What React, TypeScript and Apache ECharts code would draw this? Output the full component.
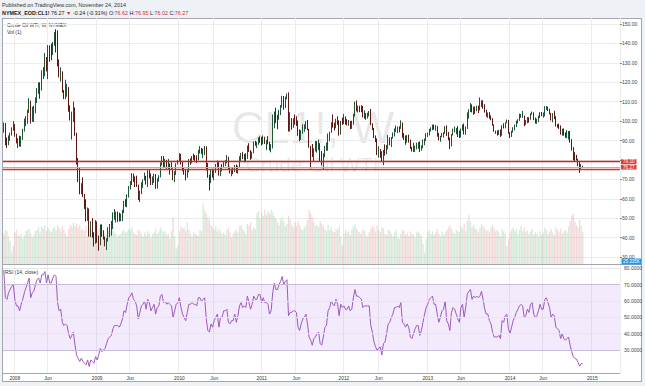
import React, { useEffect, useRef } from 'react';
import * as echarts from 'echarts';

// ---------- weekly categories (Monday of each week) ----------
const START_DATE = Date.UTC(2007, 10, 19);
const WEEK_COUNT = 390;
const weeks: string[] = Array.from({ length: WEEK_COUNT }, (_, i) =>
  new Date(START_DATE + i * 7 * 86400000).toISOString().slice(0, 10)
);

// ---------- weekly OHLC (CL1!, W) ----------
const opens = [
  95.1, 98.2, 88.7, 88.3, 91.3, 93.3, 96.0, 97.9, 92.7, 90.6,
  90.7, 89.0, 91.8, 95.5, 98.8, 101.8, 105.2, 110.2, 101.8, 105.6,
  106.2, 110.1, 116.7, 118.5, 116.3, 126.0, 126.3, 132.2, 127.4, 138.5,
  134.9, 134.6, 140.2, 145.3, 145.1, 128.9, 123.3, 125.1, 115.2, 113.8,
  114.6, 115.5, 106.2, 101.2, 104.6, 106.9, 93.9, 77.7, 71.9, 64.2,
  67.8, 61.0, 57.0, 49.9, 54.4, 40.8, 46.3, 42.4, 37.7, 46.3,
  40.8, 36.5, 46.5, 41.7, 40.2, 37.5, 38.9, 44.8, 45.5, 46.3,
  51.1, 52.4, 52.5, 52.2, 50.3, 51.6, 53.2, 58.6, 56.3, 61.7,
  66.3, 68.4, 72.0, 69.6, 69.2, 66.7, 59.9, 63.6, 68.1, 69.5,
  70.9, 67.5, 73.9, 72.7, 68.0, 69.3, 72.0, 66.0, 70.0, 71.8,
  78.5, 80.5, 77.0, 77.4, 76.4, 76.7, 76.1, 75.5, 69.9, 73.4,
  78.1, 79.4, 82.8, 78.0, 74.5, 72.9, 71.2, 74.1, 79.8, 79.7,
  81.5, 81.2, 80.7, 80.0, 84.9, 84.9, 83.2, 85.1, 86.2, 75.1,
  71.6, 70.0, 74.0, 71.5, 73.8, 77.2, 78.9, 72.1, 76.1, 76.0,
  79.0, 79.0, 80.7, 75.4, 73.5, 75.2, 74.6, 76.5, 73.7, 76.5,
  81.6, 82.7, 81.3, 81.7, 81.4, 86.9, 84.9, 81.5, 83.8, 89.2,
  87.8, 88.0, 91.5, 91.4, 88.0, 91.5, 89.1, 89.3, 89.0, 85.6,
  86.2, 97.9, 104.4, 101.2, 101.1, 105.4, 107.9, 112.8, 109.7, 112.3,
  113.9, 97.2, 99.7, 99.5, 100.6, 100.2, 99.3, 93.0, 91.2, 94.9,
  96.2, 97.2, 99.9, 95.7, 86.9, 85.4, 82.3, 85.4, 86.5, 87.2,
  88.0, 79.9, 79.2, 83.0, 86.8, 87.4, 93.3, 94.3, 99.0, 97.4,
  96.8, 101.0, 99.4, 93.5, 99.7, 98.8, 101.6, 98.7, 98.5, 99.6,
  97.8, 98.7, 103.2, 109.8, 106.7, 107.4, 107.1, 106.9, 103.0, 103.3,
  102.8, 103.1, 104.9, 98.5, 96.1, 91.5, 90.9, 83.2, 84.1, 84.0,
  79.8, 85.0, 84.5, 87.1, 91.4, 90.1, 91.4, 92.9, 96.0, 96.2,
  96.5, 96.4, 99.0, 92.9, 92.2, 89.9, 91.9, 90.1, 86.3, 84.9,
  86.1, 86.7, 88.3, 88.9, 85.9, 86.7, 88.7, 90.8, 93.1, 93.6,
  95.6, 95.9, 97.8, 95.7, 95.9, 93.1, 90.7, 92.0, 93.5, 93.7,
  97.2, 92.7, 91.3, 88.0, 93.0, 95.6, 96.0, 96.0, 94.2, 92.0,
  96.0, 97.9, 93.7, 96.6, 103.2, 106.0, 108.1, 104.7, 106.9, 106.0,
  107.5, 106.4, 107.7, 110.5, 108.2, 104.7, 102.9, 103.8, 102.0, 100.8,
  97.9, 94.6, 94.6, 93.8, 94.8, 92.7, 97.7, 96.6, 99.3, 100.3,
  94.0, 92.7, 94.4, 96.6, 97.5, 99.9, 100.3, 102.2, 102.6, 102.6,
  98.9, 99.5, 101.7, 101.1, 103.7, 104.3, 100.6, 99.8, 100.0, 102.0,
  104.4, 102.7, 102.7, 106.9, 107.3, 105.7, 104.1, 100.8, 103.1, 102.1,
  97.9, 97.7, 97.4, 93.7, 96.0, 93.3, 92.3, 92.4, 93.5, 89.7,
  85.8, 82.8, 81.0, 80.5, 78.7, 75.8, 76.62,
];

const closes = [
  98.2, 88.7, 88.3, 91.3, 93.3, 96.0, 97.9, 92.7, 90.6, 90.7,
  89.0, 91.8, 95.5, 98.8, 101.8, 105.2, 110.2, 101.8, 105.6, 106.2,
  110.1, 116.7, 118.5, 116.3, 126.0, 126.3, 132.2, 127.4, 138.5, 134.9,
  134.6, 140.2, 145.3, 145.1, 128.9, 123.3, 125.1, 115.2, 113.8, 114.6,
  115.5, 106.2, 101.2, 104.6, 106.9, 93.9, 77.7, 71.9, 64.2, 67.8,
  61.0, 57.0, 49.9, 54.4, 40.8, 46.3, 42.4, 37.7, 46.3, 40.8,
  36.5, 46.5, 41.7, 40.2, 37.5, 38.9, 44.8, 45.5, 46.3, 51.1,
  52.4, 52.5, 52.2, 50.3, 51.6, 53.2, 58.6, 56.3, 61.7, 66.3,
  68.4, 72.0, 69.6, 69.2, 66.7, 59.9, 63.6, 68.1, 69.5, 70.9,
  67.5, 73.9, 72.7, 68.0, 69.3, 72.0, 66.0, 70.0, 71.8, 78.5,
  80.5, 77.0, 77.4, 76.4, 76.7, 76.1, 75.5, 69.9, 73.4, 78.1,
  79.4, 82.8, 78.0, 74.5, 72.9, 71.2, 74.1, 79.8, 79.7, 81.5,
  81.2, 80.7, 80.0, 84.9, 84.9, 83.2, 85.1, 86.2, 75.1, 71.6,
  70.0, 74.0, 71.5, 73.8, 77.2, 78.9, 72.1, 76.1, 76.0, 79.0,
  79.0, 80.7, 75.4, 73.5, 75.2, 74.6, 76.5, 73.7, 76.5, 81.6,
  82.7, 81.3, 81.7, 81.4, 86.9, 84.9, 81.5, 83.8, 89.2, 87.8,
  88.0, 91.5, 91.4, 88.0, 91.5, 89.1, 89.3, 89.0, 85.6, 86.2,
  97.9, 104.4, 101.2, 101.1, 105.4, 107.9, 112.8, 109.7, 112.3, 113.9,
  97.2, 99.7, 99.5, 100.6, 100.2, 99.3, 93.0, 91.2, 94.9, 96.2,
  97.2, 99.9, 95.7, 86.9, 85.4, 82.3, 85.4, 86.5, 87.2, 88.0,
  79.9, 79.2, 83.0, 86.8, 87.4, 93.3, 94.3, 99.0, 97.4, 96.8,
  101.0, 99.4, 93.5, 99.7, 98.8, 101.6, 98.7, 98.5, 99.6, 97.8,
  98.7, 103.2, 109.8, 106.7, 107.4, 107.1, 106.9, 103.0, 103.3, 102.8,
  103.1, 104.9, 98.5, 96.1, 91.5, 90.9, 83.2, 84.1, 84.0, 79.8,
  85.0, 84.5, 87.1, 91.4, 90.1, 91.4, 92.9, 96.0, 96.2, 96.5,
  96.4, 99.0, 92.9, 92.2, 89.9, 91.9, 90.1, 86.3, 84.9, 86.1,
  86.7, 88.3, 88.9, 85.9, 86.7, 88.7, 90.8, 93.1, 93.6, 95.6,
  95.9, 97.8, 95.7, 95.9, 93.1, 90.7, 92.0, 93.5, 93.7, 97.2,
  92.7, 91.3, 88.0, 93.0, 95.6, 96.0, 96.0, 94.2, 92.0, 96.0,
  97.9, 93.7, 96.6, 103.2, 106.0, 108.1, 104.7, 106.9, 106.0, 107.5,
  106.4, 107.7, 110.5, 108.2, 104.7, 102.9, 103.8, 102.0, 100.8, 97.9,
  94.6, 94.6, 93.8, 94.8, 92.7, 97.7, 96.6, 99.3, 100.3, 94.0,
  92.7, 94.4, 96.6, 97.5, 99.9, 100.3, 102.2, 102.6, 102.6, 98.9,
  99.5, 101.7, 101.1, 103.7, 104.3, 100.6, 99.8, 100.0, 102.0, 104.4,
  102.7, 102.7, 106.9, 107.3, 105.7, 104.1, 100.8, 103.1, 102.1, 97.9,
  97.7, 97.4, 93.7, 96.0, 93.3, 92.3, 92.4, 93.5, 89.7, 85.8,
  82.8, 81.0, 80.5, 78.7, 75.8, 76.5, 76.27,
];

const lows = [
  94.0, 87.5, 86.1, 87.6, 89.8, 92.5, 95.0, 92.0, 88.5, 86.1,
  87.0, 86.7, 90.3, 94.6, 97.4, 98.6, 104.2, 98.7, 99.6, 99.6,
  104.0, 109.3, 114.0, 111.5, 115.7, 121.6, 123.0, 125.6, 121.6, 130.5,
  131.3, 134.0, 138.8, 135.3, 128.2, 122.5, 120.4, 114.6, 111.3, 111.3,
  112.5, 104.8, 100.3, 90.5, 99.5, 92.4, 77.6, 68.6, 62.3, 62.3,
  60.8, 54.7, 48.3, 48.6, 40.5, 40.3, 39.9, 35.4, 36.8, 37.3,
  33.2, 36.0, 40.4, 39.0, 35.5, 33.6, 38.0, 40.2, 41.0, 44.5,
  49.2, 47.7, 48.1, 48.3, 48.4, 48.5, 52.6, 55.9, 55.6, 60.6,
  64.8, 67.0, 68.7, 66.0, 66.1, 59.3, 58.3, 62.4, 65.6, 69.4,
  67.3, 66.1, 70.5, 67.1, 67.1, 68.1, 65.1, 65.2, 68.8, 71.0,
  77.1, 76.2, 76.3, 75.4, 75.2, 72.4, 75.0, 69.5, 68.6, 72.2,
  77.6, 79.0, 77.6, 74.2, 72.4, 69.5, 70.8, 73.6, 77.5, 78.3,
  80.0, 79.0, 78.4, 79.8, 83.3, 83.1, 80.9, 82.6, 74.5, 70.8,
  64.2, 68.0, 70.9, 69.5, 73.3, 75.7, 71.9, 71.6, 74.1, 75.9,
  76.8, 78.2, 75.0, 73.0, 71.6, 72.7, 73.7, 73.3, 72.9, 76.3,
  79.2, 80.4, 78.7, 79.4, 80.5, 84.1, 80.1, 80.7, 83.4, 87.3,
  86.1, 87.8, 88.8, 87.4, 88.0, 88.2, 85.1, 88.0, 84.9, 83.9,
  85.9, 96.3, 99.0, 95.8, 100.7, 103.1, 107.0, 105.8, 106.7, 111.2,
  94.6, 94.6, 95.6, 96.5, 98.1, 97.5, 92.4, 89.7, 90.3, 93.5,
  94.5, 95.9, 95.3, 86.3, 75.7, 81.5, 79.2, 84.4, 83.7, 85.0,
  79.1, 77.1, 74.9, 81.4, 84.8, 84.7, 89.6, 94.0, 96.6, 95.2,
  96.3, 98.1, 92.5, 93.0, 98.0, 98.5, 98.2, 97.8, 97.6, 95.9,
  96.0, 98.1, 102.3, 105.0, 104.4, 104.6, 104.6, 101.9, 101.2, 100.7,
  101.3, 102.4, 97.9, 95.4, 91.2, 89.2, 82.5, 81.2, 81.1, 78.9,
  77.3, 82.2, 83.0, 85.5, 87.5, 86.7, 91.0, 92.1, 94.4, 93.8,
  94.2, 96.0, 91.4, 90.3, 87.8, 88.9, 88.9, 85.7, 84.3, 84.1,
  84.1, 85.4, 85.7, 84.1, 84.7, 86.0, 87.6, 89.7, 91.8, 92.6,
  94.6, 95.3, 95.5, 95.0, 92.0, 90.1, 89.3, 91.7, 91.5, 93.4,
  92.3, 90.1, 85.6, 86.9, 92.6, 94.2, 93.2, 91.8, 91.3, 91.6,
  95.1, 93.1, 93.0, 95.9, 101.2, 104.6, 104.5, 103.2, 103.7, 105.1,
  104.1, 105.5, 107.2, 106.4, 104.4, 102.2, 101.7, 101.2, 100.5, 97.6,
  94.5, 93.4, 92.5, 92.8, 91.8, 92.4, 96.2, 96.3, 98.9, 93.5,
  91.2, 91.8, 94.0, 95.2, 96.9, 98.8, 100.1, 101.7, 101.7, 97.4,
  97.9, 98.9, 99.2, 100.7, 103.3, 100.5, 98.7, 98.6, 99.5, 101.6,
  102.5, 101.8, 102.5, 105.8, 105.2, 103.5, 100.3, 99.4, 101.0, 97.2,
  96.6, 95.9, 93.0, 92.5, 92.5, 91.4, 91.2, 90.5, 88.9, 84.8,
  79.8, 79.4, 79.8, 76.8, 73.3, 74.8, 76.02,
];

const highs = [
  99.3, 99.0, 91.5, 92.6, 94.0, 96.8, 100.0, 98.5, 93.5, 91.2,
  92.5, 92.2, 96.0, 101.3, 102.6, 105.9, 111.8, 110.5, 107.4, 108.0,
  112.2, 117.0, 119.9, 120.0, 126.2, 127.8, 135.1, 133.0, 139.1, 139.0,
  139.9, 140.7, 145.8, 147.3, 146.7, 131.8, 127.7, 125.6, 116.0, 121.3,
  119.2, 117.5, 108.1, 104.9, 110.0, 107.0, 94.0, 81.0, 75.8, 68.0,
  71.0, 62.5, 59.7, 55.5, 55.0, 48.4, 50.0, 42.8, 49.0, 48.3,
  41.0, 46.8, 46.8, 43.8, 40.5, 39.6, 45.4, 47.0, 48.6, 53.0,
  54.7, 53.4, 53.4, 52.8, 52.3, 54.3, 58.9, 59.8, 62.3, 66.6,
  69.1, 73.2, 72.9, 71.5, 71.9, 67.3, 64.2, 68.5, 70.0, 73.5,
  71.8, 74.7, 75.0, 73.1, 71.5, 72.9, 72.7, 70.5, 72.1, 78.7,
  82.0, 82.0, 80.5, 80.0, 80.5, 78.2, 78.8, 75.6, 74.2, 78.3,
  80.0, 83.5, 83.1, 79.5, 76.0, 75.1, 74.7, 80.5, 80.8, 82.0,
  83.2, 82.5, 82.4, 85.2, 87.1, 86.2, 85.8, 87.2, 87.0, 78.5,
  72.4, 75.0, 75.5, 75.2, 77.9, 79.7, 79.1, 76.4, 77.8, 79.3,
  79.9, 82.5, 81.6, 76.6, 75.5, 75.9, 77.4, 77.6, 77.0, 81.9,
  83.6, 84.0, 83.1, 83.4, 87.4, 88.6, 85.0, 84.3, 89.5, 89.8,
  89.3, 91.6, 92.1, 91.9, 92.6, 91.9, 90.2, 92.2, 89.4, 88.2,
  103.4, 104.9, 106.9, 103.2, 105.8, 108.2, 113.0, 112.9, 112.6, 114.2,
  114.8, 104.6, 101.5, 101.4, 103.4, 102.4, 100.3, 95.7, 95.3, 98.3,
  98.3, 100.0, 100.6, 96.0, 87.2, 88.2, 86.0, 89.8, 89.7, 90.5,
  88.6, 84.6, 83.4, 87.2, 89.0, 93.6, 94.6, 99.4, 103.4, 99.2,
  101.2, 102.4, 100.4, 100.1, 101.8, 103.7, 102.4, 101.0, 100.6, 100.1,
  100.2, 103.7, 110.0, 110.6, 108.0, 107.9, 108.2, 107.8, 105.5, 104.1,
  104.3, 105.2, 106.2, 98.9, 96.5, 92.6, 91.1, 87.0, 85.6, 84.4,
  85.2, 88.0, 87.7, 92.9, 91.6, 91.8, 94.2, 96.2, 97.7, 97.2,
  97.3, 100.4, 99.3, 93.8, 92.6, 92.8, 93.0, 90.4, 86.8, 88.9,
  87.3, 88.9, 89.2, 89.5, 87.5, 90.5, 91.0, 93.8, 94.1, 96.0,
  96.8, 98.2, 98.2, 98.0, 97.4, 93.8, 92.4, 93.9, 94.2, 97.4,
  97.8, 94.4, 91.6, 93.3, 96.1, 97.2, 96.5, 97.4, 95.1, 96.2,
  98.2, 98.7, 97.2, 104.5, 106.1, 109.3, 108.6, 107.5, 107.5, 107.9,
  107.9, 112.2, 110.7, 110.7, 108.7, 105.8, 104.4, 104.6, 102.9, 101.5,
  98.3, 95.1, 95.2, 95.5, 95.7, 97.9, 98.9, 99.4, 100.8, 100.6,
  94.3, 95.0, 96.8, 98.2, 100.2, 101.0, 103.8, 103.7, 105.2, 102.8,
  100.6, 102.1, 102.0, 104.0, 104.9, 104.5, 101.8, 101.2, 102.8, 104.6,
  104.7, 104.4, 107.7, 107.7, 107.5, 106.4, 104.2, 104.1, 105.3, 102.5,
  98.4, 98.7, 97.8, 96.1, 96.2, 94.2, 95.4, 94.9, 94.9, 90.7,
  86.6, 83.9, 82.6, 80.6, 78.9, 77.9, 76.95,
];

// ---------- weekly volume (K) ----------
const volumes = [
  24, 27, 26, 22, 18, 10, 14, 25, 27, 23,
  22, 24, 20, 23, 26, 27, 28, 24, 21, 23,
  26, 27, 29, 25, 30, 28, 31, 26, 29, 27,
  25, 28, 30, 27, 31, 29, 26, 30, 27, 24,
  22, 28, 31, 30, 33, 30, 32, 29, 31, 27,
  28, 26, 30, 22, 29, 27, 25, 17, 20, 26,
  28, 31, 27, 25, 24, 23, 27, 26, 28, 29,
  25, 24, 22, 23, 24, 26, 27, 25, 26, 28,
  27, 29, 25, 24, 23, 27, 26, 24, 22, 25,
  23, 26, 24, 21, 24, 25, 28, 24, 26, 29,
  27, 25, 26, 23, 24, 20, 26, 37, 22, 12,
  15, 26, 30, 28, 29, 26, 33, 27, 24, 22,
  25, 24, 23, 22, 27, 26, 48, 43, 40, 37,
  35, 31, 29, 27, 30, 26, 28, 26, 24, 25,
  23, 27, 29, 25, 21, 24, 26, 27, 25, 30,
  31, 28, 26, 24, 32, 30, 33, 27, 29, 28,
  40, 42, 36, 41, 38, 43, 39, 42, 40, 43,
  41, 38, 36, 33, 31, 35, 37, 34, 30, 32,
  38, 35, 31, 29, 33, 30, 34, 31, 28, 27,
  29, 31, 35, 43, 40, 37, 33, 30, 31, 29,
  34, 32, 30, 28, 26, 31, 27, 29, 26, 25,
  28, 27, 30, 22, 15, 24, 27, 25, 26, 23,
  27, 30, 32, 28, 26, 25, 24, 27, 26, 23,
  22, 25, 28, 30, 29, 26, 31, 27, 25, 29,
  28, 24, 23, 27, 26, 24, 22, 25, 27, 21,
  20, 24, 27, 26, 23, 25, 22, 26, 24, 23,
  21, 25, 26, 24, 22, 16, 9, 20, 25, 27,
  24, 26, 23, 25, 28, 24, 22, 26, 23, 25,
  27, 29, 31, 28, 25, 24, 27, 26, 25, 30,
  28, 32, 26, 34, 39, 33, 29, 31, 28, 27,
  25, 29, 32, 30, 28, 26, 27, 25, 29, 31,
  28, 26, 27, 25, 22, 28, 26, 24, 14, 20,
  25, 27, 29, 26, 28, 24, 27, 30, 26, 29,
  25, 27, 24, 26, 28, 23, 25, 24, 22, 26,
  23, 25, 29, 27, 24, 26, 28, 25, 23, 29,
  27, 25, 28, 24, 26, 27, 25, 30, 34, 38,
  40, 33, 31, 29, 35, 30, 25.335,
];

// ---------- RSI (14, close) ----------
const rsi = [
  79, 62, 61, 65, 67, 69, 70, 61, 57, 57,
  54, 58, 61, 65, 68, 71, 74, 62, 65, 66,
  70, 73, 74, 71, 76, 76, 78, 71, 76, 71,
  71, 74, 76, 75, 59, 54, 55, 47, 45, 46,
  45, 40, 37, 39, 41, 33, 27, 25, 23, 25,
  23, 22, 21, 24, 20, 24, 23, 22, 26, 24,
  27, 31, 29, 30, 31, 34, 37, 38, 39, 43,
  45, 45, 45, 44, 46, 49, 54, 53, 58, 62,
  63, 65, 61, 60, 57, 49, 53, 57, 58, 60,
  55, 61, 59, 54, 56, 58, 52, 56, 57, 63,
  64, 59, 60, 58, 59, 58, 57, 50, 54, 58,
  59, 62, 56, 52, 50, 48, 53, 58, 58, 59,
  58, 58, 57, 62, 62, 60, 61, 62, 49, 42,
  41, 46, 44, 48, 50, 52, 44, 50, 50, 54,
  54, 55, 47, 46, 48, 48, 52, 47, 51, 57,
  59, 56, 57, 56, 63, 59, 55, 58, 63, 61,
  61, 64, 64, 59, 62, 59, 59, 58, 52, 54,
  65, 71, 67, 67, 70, 72, 75, 70, 72, 73,
  51, 53, 53, 54, 54, 53, 44, 42, 46, 49,
  50, 52, 46, 38, 36, 33, 37, 38, 40, 41,
  34, 33, 38, 44, 45, 54, 56, 60, 58, 57,
  61, 58, 51, 58, 56, 57, 55, 55, 57, 54,
  55, 62, 67, 63, 63, 62, 61, 56, 57, 57,
  57, 57, 45, 41, 35, 32, 30, 31, 32, 27,
  34, 35, 40, 46, 47, 50, 52, 56, 56, 57,
  56, 59, 47, 46, 44, 46, 44, 38, 37, 40,
  43, 45, 45, 39, 42, 47, 52, 56, 58, 61,
  62, 63, 58, 58, 52, 47, 50, 54, 55, 60,
  48, 46, 42, 53, 56, 55, 52, 49, 47, 56,
  58, 50, 56, 64, 66, 67, 61, 63, 62, 63,
  62, 63, 66, 61, 55, 52, 52, 48, 46, 41,
  38, 38, 38, 39, 37, 48, 47, 51, 52, 43,
  40, 44, 48, 50, 53, 55, 57, 58, 57, 50,
  51, 55, 53, 58, 59, 52, 50, 51, 54, 58,
  55, 55, 61, 62, 59, 56, 50, 52, 51, 44,
  43, 42, 37, 40, 37, 36, 37, 38, 33, 29,
  26, 25, 24.5, 22.5, 20.2, 21.8, 21.5755,
];

// ---------- levels, ticks ----------
const userLevels = [79.1, 75.2];
const lastClose = closes[closes.length - 1];
const lastRsi = rsi[rsi.length - 1];
const lastVolumeLabel = '25.335K';
const rsiGridLevels = [80, 60, 50, 40];
const rsiBands = [30, 70];

const FONT = 'Liberation Sans, Arial, sans-serif';

const isLabelWeek = (idx: number) => {
  const w = weeks[idx];
  if (!w) return false;
  const [, m, d] = w.split('-').map(Number);
  return (m === 1 || m === 6) && d <= 7;
};
const weekLabel = (v: string) => {
  const [y, m] = v.split('-').map(Number);
  return m === 1 ? String(y) : 'Jun';
};
// price-scale labels hidden where the red price tags cover them
const coveredByTag = (v: number) =>
  [userLevels[0], lastClose].some((p) => Math.abs(p - v) < 2.5);

const UP_VOL = 'rgba(120, 190, 140, 0.32)';
const DOWN_VOL = 'rgba(215, 120, 120, 0.28)';

function buildOption() {
  const candleData = closes.map((c, i) => [opens[i], c, lows[i], highs[i]]);
  const volumeData = volumes.map((v, i) => ({
    value: v,
    itemStyle: { color: closes[i] >= opens[i] ? UP_VOL : DOWN_VOL },
  }));
  const redLabel = (txt: string, bg: string) => ({
    show: true,
    position: 'end',
    distance: 1,
    formatter: txt,
    backgroundColor: bg,
    color: '#fff',
    fontSize: 4.6,
    lineHeight: 4.8,
    fontFamily: FONT,
    padding: [0, 2],
  });

  return {
    animation: false,
    backgroundColor: 'transparent',
    textStyle: { fontFamily: FONT },
    grid: [
      { left: 3, right: 25, top: 24, height: 233 },
      { left: 3, right: 25, top: 18, height: 246 },
      { left: 3, right: 25, top: 265, height: 108 },
    ],
    xAxis: [
      { type: 'category', gridIndex: 0, data: weeks, show: false, boundaryGap: true },
      {
        type: 'category', gridIndex: 1, data: weeks, boundaryGap: true,
        axisLine: { show: false }, axisTick: { show: false }, axisLabel: { show: false },
        splitLine: { show: true, interval: (i: number) => isLabelWeek(i), lineStyle: { color: '#ececec', width: 1 } },
      },
      {
        type: 'category', gridIndex: 2, data: weeks, boundaryGap: true,
        axisLine: { show: true, lineStyle: { color: '#a3a7ad' } },
        axisTick: { show: false },
        axisLabel: {
          interval: (i: number) => isLabelWeek(i),
          formatter: (v: string) => weekLabel(v),
          fontSize: 4.8, color: '#333', margin: 3,
        },
        splitLine: { show: true, interval: (i: number) => isLabelWeek(i), lineStyle: { color: '#ececec', width: 1 } },
      },
    ],
    yAxis: [
      {
        type: 'value', gridIndex: 0, position: 'right', min: 30, max: 150, interval: 10,
        axisLine: { show: false },
        axisTick: { show: true, length: 2, lineStyle: { color: '#888' } },
        axisLabel: {
          fontSize: 5, color: '#444', margin: 2,
          formatter: (v: number) => (coveredByTag(v) ? '' : v.toFixed(2)),
        },
        splitLine: { show: true, lineStyle: { color: '#ececec', width: 1 } },
      },
      { type: 'value', gridIndex: 1, min: 0, max: 195, show: false, splitLine: { show: false } },
      {
        type: 'value', gridIndex: 2, position: 'right', min: 16, max: 82, interval: 2,
        axisLine: { show: false }, axisTick: { show: false },
        axisLabel: {
          fontSize: 5, color: '#444', margin: 4,
          formatter: (v: number) => (v % 10 === 0 && v >= 30 && v <= 80 ? v.toFixed(4) : ''),
        },
        splitLine: { show: false },
      },
    ],
    series: [
      {
        type: 'bar', name: 'Vol', xAxisIndex: 1, yAxisIndex: 1, data: volumeData,
        barCategoryGap: '18%', silent: true,
      },
      {
        type: 'candlestick', name: 'CL1!', xAxisIndex: 0, yAxisIndex: 0, data: candleData,
        barWidth: 1,
        itemStyle: {
          color: '#6ba583', color0: '#d75442',
          borderColor: '#225437', borderColor0: '#5b1a13', borderWidth: 1,
        },
        markLine: {
          silent: true, symbol: ['none', 'none'], animation: false,
          label: { show: false },
          data: [
            { yAxis: userLevels[0], lineStyle: { color: '#c62828', width: 1.4, type: 'solid' }, label: redLabel(userLevels[0].toFixed(2), '#e53935') },
            { yAxis: lastClose, lineStyle: { color: '#ef9a9a', width: 1, type: 'solid' }, label: redLabel(lastClose.toFixed(2), '#e53935') },
            { yAxis: userLevels[1], lineStyle: { color: '#d32f2f', width: 1.4, type: 'solid' }, label: { show: false } },
          ],
        },
      },
      {
        type: 'line', name: 'RSI', xAxisIndex: 2, yAxisIndex: 2, data: rsi,
        symbol: 'none', lineStyle: { color: '#9b5bbf', width: 1 },
        markArea: {
          silent: true,
          itemStyle: { color: 'rgba(160, 90, 230, 0.13)' },
          data: [[{ yAxis: rsiBands[0] }, { yAxis: rsiBands[1] }]],
        },
        markLine: {
          silent: true, symbol: ['none', 'none'], animation: false,
          label: { show: false },
          data: [
            ...rsiGridLevels.map((v) => ({ yAxis: v, lineStyle: { color: '#e6e6e6', width: 1, type: 'solid' } })),
            ...rsiBands.map((v) => ({ yAxis: v, lineStyle: { color: '#c9bcd8', width: 1, type: 'solid' } })),
            {
              yAxis: lastRsi, lineStyle: { opacity: 0 },
              label: {
                show: true, position: 'end', distance: 1, formatter: lastRsi.toFixed(4),
                backgroundColor: '#8e24aa', color: '#fff', fontSize: 5, fontFamily: FONT, padding: [1, 2],
              },
            },
          ],
        },
      },
    ],
    graphic: [
      // watermark
      {
        type: 'text', x: 313, y: 127, silent: true,
        style: { text: 'CL1!, W', fontSize: 45, fontFamily: FONT, fill: 'rgba(0,0,0,0.09)', textAlign: 'center', textVerticalAlign: 'middle' },
      },
      {
        type: 'text', x: 312, y: 164, silent: true,
        style: { text: 'Crude Oil WTI', fontSize: 21, fontFamily: FONT, fill: 'rgba(0,0,0,0.09)', textAlign: 'center', textVerticalAlign: 'middle' },
      },
      // frame lines
      { type: 'line', silent: true, shape: { x1: 620.5, y1: 18, x2: 620.5, y2: 373 }, style: { stroke: '#a3a7ad', lineWidth: 1 } },
      { type: 'line', silent: true, shape: { x1: 2, y1: 264.5, x2: 642, y2: 264.5 }, style: { stroke: '#a3a7ad', lineWidth: 1 } },
      // header
      {
        type: 'text', x: 2, y: 5, silent: true,
        style: { text: 'Published on TradingView.com, November 24, 2014', fontSize: 5.4, fontFamily: FONT, fill: '#333', textVerticalAlign: 'middle' },
      },
      {
        type: 'text', x: 2, y: 13.3, silent: true,
        style: {
          text: '{b|NYMEX_EOD:CL1!} 76.27 {r|▼} -0.24 (-0.31%) O:{r|76.62} H:{r|76.95} L:{r|76.02} C:{r|76.27}',
          fontSize: 5.4, fontFamily: FONT, fill: '#222', textVerticalAlign: 'middle',
          rich: {
            b: { fontSize: 5.4, fontFamily: FONT, fontWeight: 'bold', fill: '#222' },
            r: { fontSize: 5.4, fontFamily: FONT, fill: '#d32f2f' },
          },
        },
      },
      // pane labels
      {
        type: 'text', x: 7, y: 25.3, silent: true,
        style: { text: 'Crude Oil WTI, W, NYMEX', fontSize: 5, fontFamily: FONT, fill: '#333', textVerticalAlign: 'middle' },
      },
      {
        type: 'text', x: 7, y: 32, silent: true,
        style: { text: 'Vol (1)', fontSize: 5, fontFamily: FONT, fill: '#333', textVerticalAlign: 'middle' },
      },
      {
        type: 'text', x: 5, y: 271.5, silent: true,
        style: { text: 'RSI (14, close)', fontSize: 5, fontFamily: FONT, fill: '#333', textVerticalAlign: 'middle' },
      },
      {
        type: 'text', x: 621.5, y: 258.5, silent: true,
        style: { text: lastVolumeLabel, fontSize: 4.5, fontFamily: FONT, fill: '#fff', backgroundColor: '#2196f3', padding: [0.5, 1.5] },
      },
    ],
  };
}

export default function App() {
  const ref = useRef<HTMLDivElement>(null);
  useEffect(() => {
    document.body.style.margin = '0';
    const chart = echarts.init(ref.current as HTMLDivElement, null, { renderer: 'svg' });
    chart.setOption(buildOption() as any);
    return () => chart.dispose();
  }, []);
  return (
    <div style={{ position: 'relative', width: 645, height: 386, background: '#eef1f5', overflow: 'hidden' }}>
      <div
        style={{
          position: 'absolute', left: 2, top: 18, width: 640, height: 364,
          background: '#fff', border: '1px solid #a3a7ad', boxSizing: 'border-box',
        }}
      />
      <div ref={ref} style={{ position: 'absolute', left: 0, top: 0, width: 645, height: 386 }} />
    </div>
  );
}
